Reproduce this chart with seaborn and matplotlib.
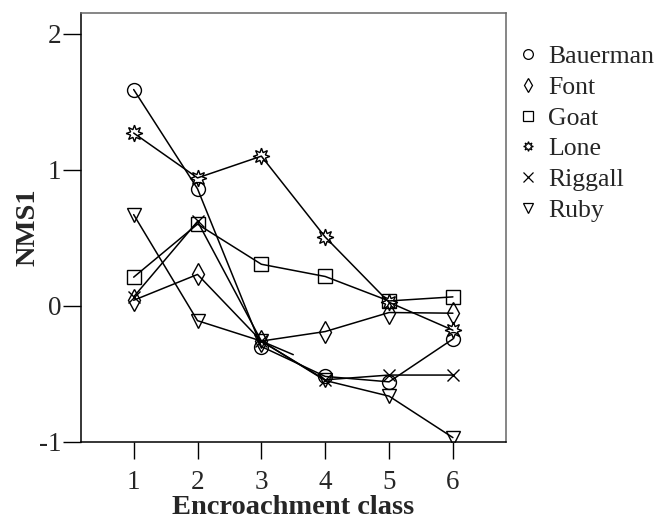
import numpy as np
import pandas as pd
import matplotlib
matplotlib.use("Agg")
import matplotlib.pyplot as plt
import seaborn as sns

# encroachment classes and NMS1 scores per site
classes = [1, 2, 3, 4, 5, 6]
sites = ["Bauerman", "Font", "Goat", "Lone", "Riggall", "Ruby"]
bauerman = [1.59, 0.86, -0.30, -0.52, -0.56, -0.245]
font = [0.04, 0.23, -0.26, -0.19, -0.05, -0.055]
goat = [0.21, 0.60, 0.305, 0.215, 0.035, 0.065]
lone = [1.27, 0.94, 1.10, 0.505, 0.025, -0.18]
riggall = [0.065, 0.62, -0.26, -0.545, -0.51, -0.51]
ruby = [0.67, -0.11, -0.26, -0.55, -0.665, -0.97]

# short stray segment in the original figure
stray_x = [3, 3.5]
stray_y = [-0.26, -0.36]

markers = {"Bauerman": "o", "Font": "d", "Goat": "s",
           "Lone": (8, 1, 0), "Riggall": "x", "Ruby": "v"}
sizes = {"Bauerman": 10, "Font": 11, "Goat": 10,
         "Lone": 12, "Riggall": 9, "Ruby": 10}

values = [bauerman, font, goat, lone, riggall, ruby]
df = pd.DataFrame({
    "site": np.repeat(sites, len(classes)),
    "cls": np.tile(classes, len(sites)),
    "nms1": np.concatenate(values),
})

sns.set_style("ticks")
plt.rcParams["font.family"] = ["Liberation Serif", "DejaVu Serif"]
plt.rcParams["axes.unicode_minus"] = False

fig = plt.figure(figsize=(6.57, 5.25), dpi=100)
ax = fig.add_axes([0.1228, 0.1587, 0.6472, 0.8171])

for site in sites:
    sub = df[df["site"] == site]
    sns.lineplot(data=sub, x="cls", y="nms1", ax=ax, color="black",
                 marker=markers[site], markersize=sizes[site],
                 markerfacecolor="none", markeredgecolor="black",
                 markeredgewidth=1.0, linewidth=1.1, label=site)

ax.plot(stray_x, stray_y, color="black", linewidth=1.1)

ax.set_xlim(0.17, 6.83)
ax.set_ylim(-1, 2.155)
ax.set_xticks(classes)
ax.set_yticks([-1, 0, 1, 2])
ax.tick_params(axis="both", width=1.0, labelsize=19.5, color="black")
ax.tick_params(axis="y", length=13, pad=1)
ax.tick_params(axis="x", length=12, pad=8.5)

ax.set_xlabel("Encroachment class", fontsize=20.5, fontweight="bold")
ax.set_ylabel("NMS1", fontsize=20.5, fontweight="bold")
ax.xaxis.set_label_coords(0.5, -0.125)
ax.yaxis.set_label_coords(-0.094, 0.5)

for side in ["left", "bottom"]:
    ax.spines[side].set_color("black")
    ax.spines[side].set_linewidth(1.1)
for side in ["top", "right"]:
    ax.spines[side].set_visible(True)
    ax.spines[side].set_color("#666666")
    ax.spines[side].set_linewidth(1.1)

leg = ax.legend(loc="upper left", bbox_to_anchor=(0.79, 0.914),
                bbox_transform=fig.transFigure, frameon=False, fontsize=18.5,
                handlelength=0.7, handletextpad=0.42, labelspacing=0.3,
                borderaxespad=0, borderpad=0)
for h in leg.legend_handles:
    h.set_linestyle("none")
    h.set_markersize(7)
    h.set_markeredgewidth(0.9)

fig.savefig("out.png", dpi=100)
